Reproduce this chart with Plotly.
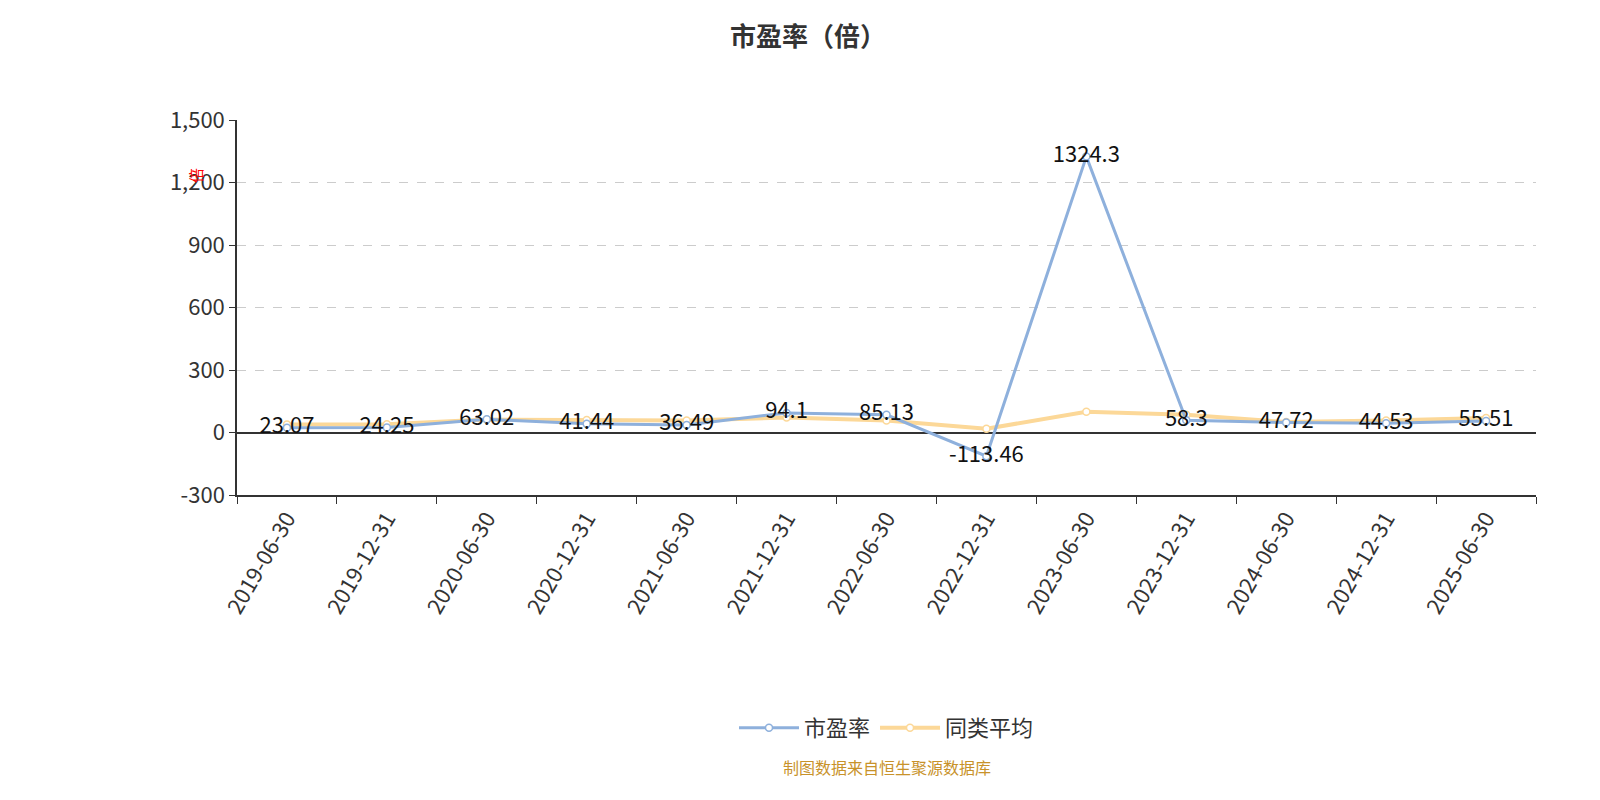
import plotly.graph_objects as go

dates = ["2019-06-30","2019-12-31","2020-06-30","2020-12-31","2021-06-30","2021-12-31","2022-06-30",
         "2022-12-31","2023-06-30","2023-12-31","2024-06-30","2024-12-31","2025-06-30"]
pe = [23.07,24.25,63.02,41.44,36.49,94.1,85.13,-113.46,1324.3,58.3,47.72,44.53,55.51]
avg = [38,40,62,60,58,72,58,18,100,85,50,58,70]
pe_labels = ["23.07","24.25","63.02","41.44","36.49","94.1","85.13","-113.46","1324.3","58.3","47.72","44.53","55.51"]

fig = go.Figure()
fig.add_trace(go.Scatter(x=dates, y=avg, name="同类平均", mode="lines+markers",
    line=dict(color="#fcd898", width=4), marker=dict(size=7, color="white", line=dict(color="#fcd898", width=1.5))))
fig.add_trace(go.Scatter(x=dates, y=pe, name="市盈率", mode="lines+markers+text",
    line=dict(color="#8eb0dc", width=3), marker=dict(size=7, color="white", line=dict(color="#8eb0dc", width=1.5)),
    text=pe_labels, textposition="middle center", textfont=dict(size=22, color="#111")))

L, R, T, B = 229, 72, 112, 313
fig.update_layout(
    width=1600, height=800, plot_bgcolor="white", paper_bgcolor="white",
    font=dict(family="Noto Sans CJK SC, Noto Sans", color="#333"),
    title=dict(text="<b>市盈率（倍）</b>", x=0.5, y=0.975, xanchor="center", font=dict(size=26, color="#333")),
    margin=dict(l=L, r=R, t=T, b=B),
    showlegend=True,
    legend=dict(orientation="h", x=0.5, xanchor="center", yanchor="middle", font=dict(size=22, color="#333"),
                traceorder="reversed", itemwidth=60),
    xaxis=dict(type="category", range=[-0.5, 12.5], tickson="boundaries", ticks="outside", ticklen=7,
               tickcolor="#333", showline=True, linecolor="#333", linewidth=2, showgrid=False,
               tickangle=-60, tickfont=dict(size=22, color="#333"), zeroline=False),
    yaxis=dict(range=[-300, 1500], tickvals=[-300,0,300,600,900,1200,1500],
               ticktext=["-300","0","300","600","900","1,200","1,500"],
               showgrid=True, gridcolor="#ccc", griddash="dash", showline=True, linecolor="#333", linewidth=1.5,
               ticks="outside", ticklen=6, tickcolor="#333", tickfont=dict(size=22, color="#333"),
               zeroline=True, zerolinecolor="#333", zerolinewidth=2),
)
pw, ph = 1600-L-R, 800-T-B
fig.add_annotation(text="倍", x=(175-L)/pw, y=1-(158-T)/ph, xref="paper", yref="paper", showarrow=False,
                   textangle=-90, font=dict(size=15, color="red"))
fig.add_annotation(text="制图数据来自恒生聚源数据库", x=0.5, y=1-(773-T)/ph, xref="paper", yref="paper",
                   showarrow=False, font=dict(size=16, color="#c8922a"), xanchor="center")
fig.layout.legend.update(y=1-(720-T)/ph)
fig.write_html("out.html")
